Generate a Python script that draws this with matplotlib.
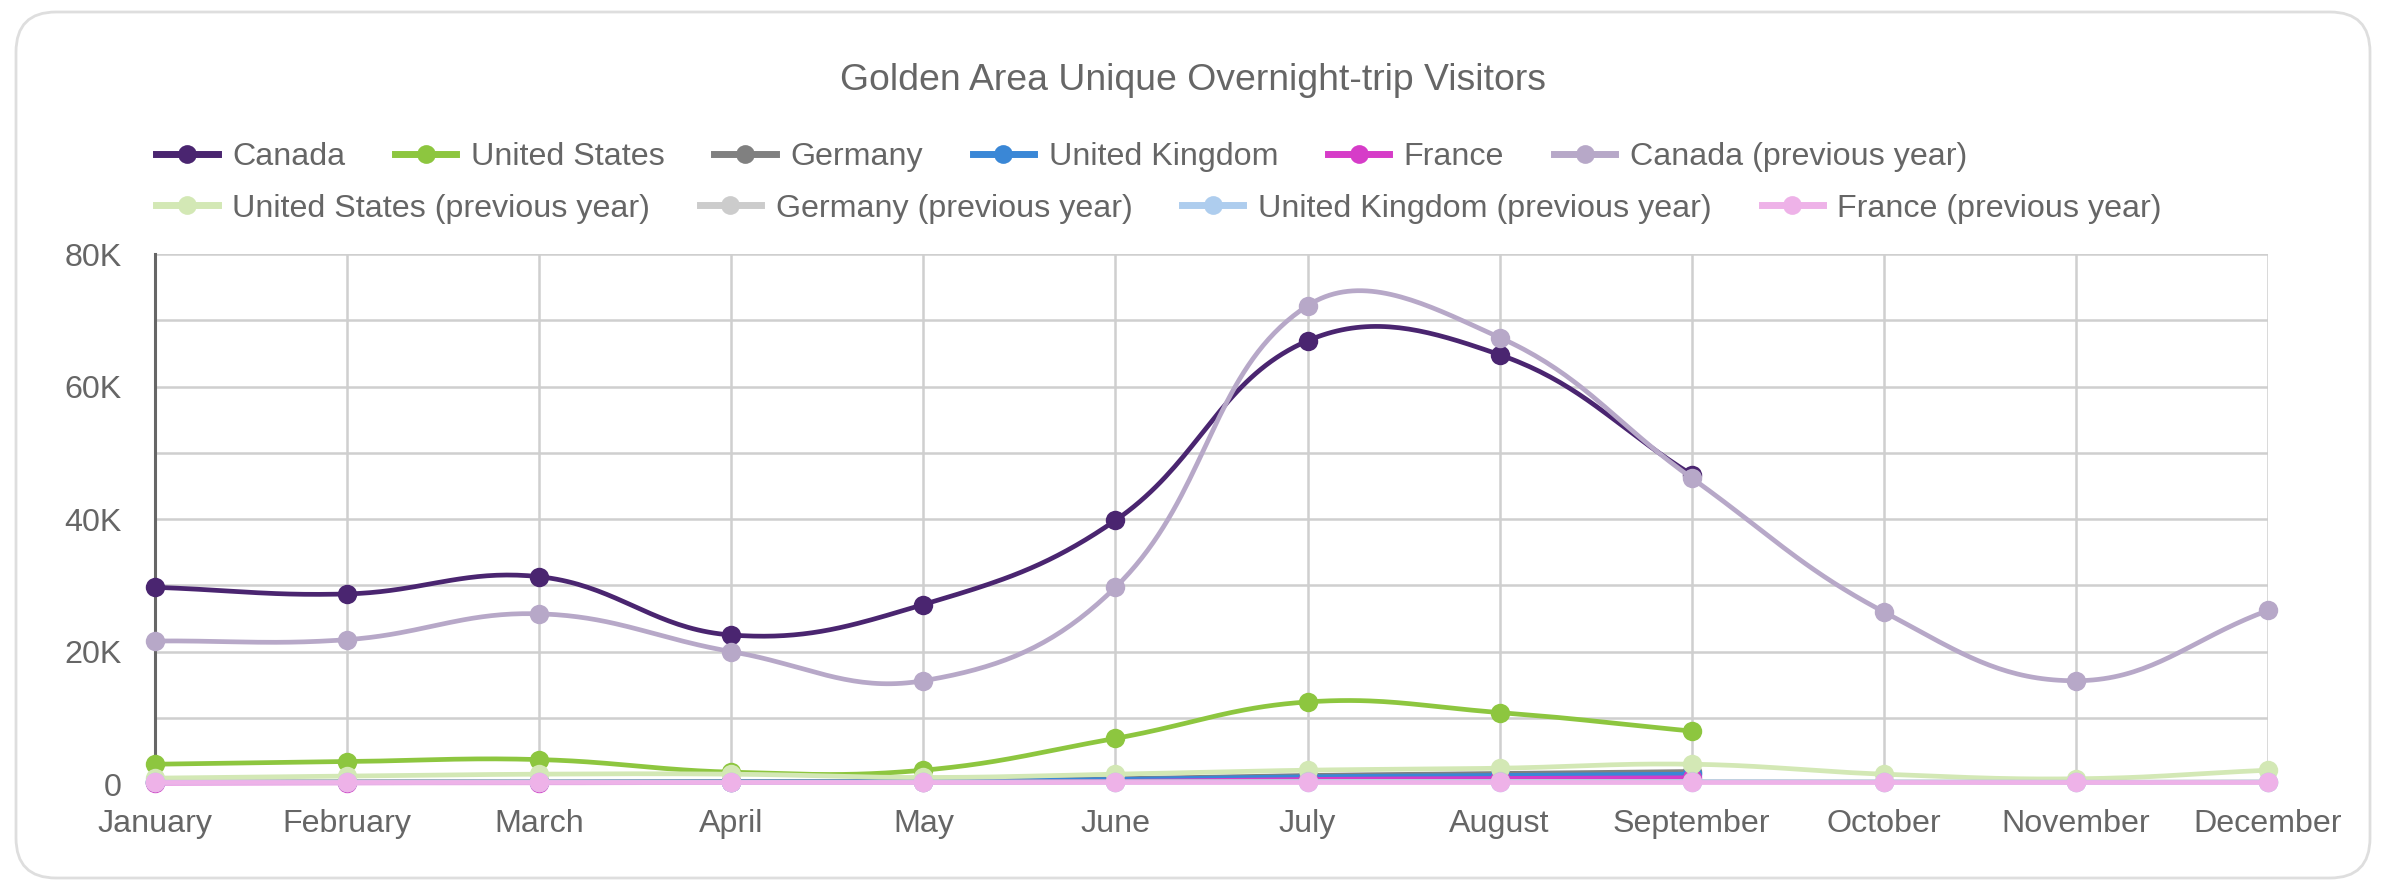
import numpy as np
import matplotlib.pyplot as plt
from matplotlib.lines import Line2D
from matplotlib.patches import FancyBboxPatch
from matplotlib.transforms import IdentityTransform
from matplotlib.ticker import FuncFormatter, MultipleLocator

plt.rcParams['font.family'] = ['Liberation Sans', 'DejaVu Sans']

# monthly unique overnight-trip visitors
months = ['January', 'February', 'March', 'April', 'May', 'June',
          'July', 'August', 'September', 'October', 'November', 'December']

canada = [29700, 28700, 31300, 22500, 27100, 39800, 66900, 64800, 46700]
united_states = [3000, 3400, 3700, 1800, 2100, 6900, 12400, 10800, 8000]
germany = [300, 350, 400, 400, 450, 800, 1300, 1600, 1900]
united_kingdom = [250, 300, 350, 350, 400, 700, 1100, 1300, 1500]
france = [150, 200, 200, 250, 250, 400, 700, 850, 950]

canada_prev = [21600, 21800, 25700, 20000, 15600, 29700, 72200, 67400, 46200,
               26000, 15600, 26200]
united_states_prev = [900, 1200, 1500, 1500, 1000, 1500, 2100, 2400, 3000,
                      1500, 800, 2100]
germany_prev = [300, 300, 350, 300, 300, 350, 400, 400, 400, 350, 300, 350]
united_kingdom_prev = [250, 250, 300, 250, 250, 300, 350, 350, 350, 300, 250, 300]
france_prev = [300, 300, 300, 300, 300, 300, 300, 300, 300, 300, 300, 300]

series = [
    ('Canada', canada, '#4a2570'),
    ('United States', united_states, '#8dc63f'),
    ('Germany', germany, '#808080'),
    ('United Kingdom', united_kingdom, '#3a87d6'),
    ('France', france, '#d63cc8'),
    ('Canada (previous year)', canada_prev, '#b7a8c8'),
    ('United States (previous year)', united_states_prev, '#d3e8b5'),
    ('Germany (previous year)', germany_prev, '#cccccc'),
    ('United Kingdom (previous year)', united_kingdom_prev, '#aecdee'),
    ('France (previous year)', france_prev, '#eeb2e8'),
]

TEXT = '#666666'
GRID = '#cfcfcf'
FS = 23.2

fig = plt.figure(figsize=(23.86, 8.82), dpi=100)

# rounded card behind the chart
card = FancyBboxPatch((16, 4), 2354, 866, boxstyle='round,pad=0,rounding_size=40',
                      transform=IdentityTransform(), facecolor='white',
                      edgecolor='#dedede', linewidth=2, zorder=-10)
fig.patches.append(card)

ax = fig.add_axes([0.065, 0.111, 0.8855, 0.601])
ax.set_xlim(0, len(months) - 1)
ax.set_ylim(0, 80000)
ax.set_facecolor('none')


def spline(ax, xs, ys, tension=0.4, steps=40):
    """Chart.js style bezier through the points, computed in pixel space."""
    pts = ax.transData.transform(np.column_stack([xs, ys]))
    n = len(pts)
    cps = []
    for i in range(n):
        prev = pts[max(i - 1, 0)]
        cur = pts[i]
        nxt = pts[min(i + 1, n - 1)]
        d01 = np.hypot(*(cur - prev))
        d12 = np.hypot(*(nxt - cur))
        tot = d01 + d12 if d01 + d12 else 1
        fa = tension * d01 / tot
        fb = tension * d12 / tot
        cps.append((cur - fa * (nxt - prev), cur + fb * (nxt - prev)))
    out = [pts[0]]
    t = np.linspace(0, 1, steps)[1:, None]
    for i in range(n - 1):
        p0, p1, p2, p3 = pts[i], cps[i][1], cps[i + 1][0], pts[i + 1]
        seg = ((1 - t) ** 3 * p0 + 3 * (1 - t) ** 2 * t * p1
               + 3 * (1 - t) * t ** 2 * p2 + t ** 3 * p3)
        out.extend(seg)
    out = ax.transData.inverted().transform(np.array(out))
    return out[:, 0], out[:, 1]


handles = []
for z, (name, values, color) in enumerate(series):
    xs = np.arange(len(values))
    sx, sy = spline(ax, xs, values)
    ax.plot(sx, sy, color=color, lw=3.4, solid_capstyle='butt',
            clip_on=False, zorder=3 + z)
    ax.plot(xs, values, 'o', color=color, ms=14, mew=0,
            clip_on=False, zorder=3 + z)
    handles.append(Line2D([], [], color=color, lw=5, marker='o',
                          ms=13.5, mew=0, label=name))

# grid: horizontal every 10K, labels every 20K
ax.yaxis.set_major_locator(MultipleLocator(20000))
ax.yaxis.set_minor_locator(MultipleLocator(10000))
ax.yaxis.set_major_formatter(FuncFormatter(
    lambda v, p: '0' if v == 0 else f'{int(v / 1000)}K'))
ax.set_xticks(range(len(months)))
ax.set_xticklabels(months)
ax.grid(True, which='both', axis='y', color=GRID, lw=1.8)
ax.grid(True, axis='x', color=GRID, lw=1.8)
ax.set_axisbelow(True)
ax.tick_params(axis='both', which='both', length=0, labelsize=FS,
               labelcolor=TEXT)
ax.tick_params(axis='y', pad=24)
ax.tick_params(axis='x', pad=18)
for side in ['top', 'right', 'bottom']:
    ax.spines[side].set_visible(False)
ax.spines['left'].set_color(TEXT)
ax.spines['left'].set_linewidth(2.2)
ax.spines['left'].set_zorder(2.5)

fig.text(0.5, 0.909, 'Golden Area Unique Overnight-trip Visitors',
         ha='center', va='center', fontsize=26.9, color=TEXT)

legend_kw = dict(frameon=False, fontsize=FS, labelcolor=TEXT,
                 handlelength=1.9, handletextpad=0.45, columnspacing=1.55,
                 borderpad=0, borderaxespad=0, loc='center left')
fig.legend(handles=handles[:6], ncol=6,
           bbox_to_anchor=(0.0655, 0.822), **legend_kw)
fig.legend(handles=handles[6:], ncol=4,
           bbox_to_anchor=(0.0655, 0.7636), **legend_kw)

fig.savefig('out.png', dpi=100)
